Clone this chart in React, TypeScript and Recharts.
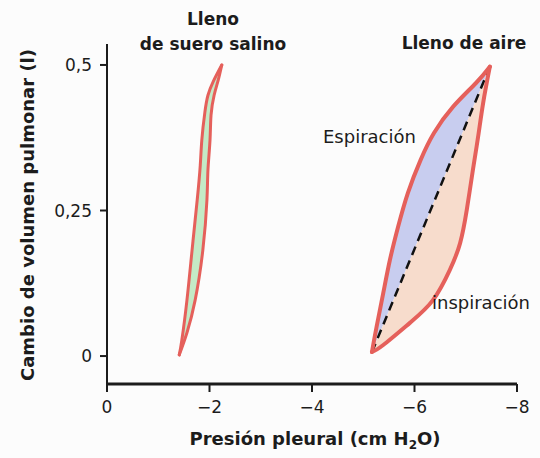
import { ScatterChart, Scatter, XAxis, YAxis, Label } from 'recharts';

const FONT = '"DejaVu Sans", sans-serif';
const INK = '#1c1c1c';
const RED = '#e5605b';
const GREEN = '#c4eac6';
const BLUE = '#c8cdef';
const PEACH = '#f7dccc';

const X_TICKS = [0, -2, -4, -6, -8];
const Y_TICKS = [0, 0.25, 0.5];

// Lleno de suero salino: dos ramas, de abajo hacia arriba
const SALINE_LEFT_X = [-1.41, -1.46, -1.56, -1.66, -1.76, -1.82, -1.85, -1.91, -1.97, -2.07, -2.24];
const SALINE_LEFT_Y = [0.002, 0.027, 0.096, 0.182, 0.268, 0.328, 0.371, 0.419, 0.448, 0.471, 0.5];
const SALINE_RIGHT_X = [-1.41, -1.56, -1.72, -1.87, -1.95, -1.97, -2.01, -2.03, -2.09, -2.17, -2.24];
const SALINE_RIGHT_Y = [0.002, 0.04, 0.096, 0.182, 0.268, 0.32, 0.371, 0.414, 0.448, 0.474, 0.5];

// Lleno de aire: espiración (arriba-izquierda) e inspiración (abajo-derecha)
const AIR_EXP_X = [-5.17, -5.26, -5.39, -5.52, -5.68, -5.87, -6.12, -6.38, -6.75, -7.2, -7.47];
const AIR_EXP_Y = [0.007, 0.05, 0.108, 0.165, 0.222, 0.28, 0.337, 0.383, 0.428, 0.469, 0.497];
const AIR_INS_X = [-5.17, -5.39, -5.91, -6.36, -6.69, -6.89, -7.02, -7.14, -7.24, -7.34, -7.47];
const AIR_INS_Y = [0.007, 0.019, 0.057, 0.096, 0.148, 0.194, 0.251, 0.32, 0.376, 0.435, 0.497];

const pts = (xs: number[], ys: number[]) => xs.map((x, i) => ({ x, y: ys[i] }));

const salineLeft = pts(SALINE_LEFT_X, SALINE_LEFT_Y);
const salineRight = pts(SALINE_RIGHT_X, SALINE_RIGHT_Y);
const salineLoop = [...salineLeft, ...salineRight.slice().reverse()];
const airExp = pts(AIR_EXP_X, AIR_EXP_Y);
const airIns = pts(AIR_INS_X, AIR_INS_Y);
const airDiag = [airExp[0], airExp[airExp.length - 1]];

const NoDot = () => <g />;

const fmtX = (v: number) => (v === 0 ? '0' : `\u2212${Math.abs(v)}`);
const fmtY = (v: number) => (v === 0 ? '0' : String(v).replace('.', ','));

function XTitle(props: any) {
  const vb = props.viewBox ?? { x: 107, y: 384, width: 410, height: 74 };
  return (
    <text x={vb.x + vb.width / 2 + 3} y={vb.y + 61} textAnchor="middle" fontFamily={FONT} fontWeight="bold" fontSize={18} fill={INK}>
      Presión pleural (cm H<tspan fontSize={12} dy={4}>2</tspan><tspan dy={-4}>O)</tspan>
    </text>
  );
}

function YTitle(props: any) {
  const vb = props.viewBox ?? { x: 0, y: 44, width: 107, height: 340 };
  const cx = vb.x + 27;
  const cy = vb.y + vb.height / 2 + 1;
  return (
    <text x={cx} y={cy} transform={`rotate(-90 ${cx} ${cy})`} textAnchor="middle" dominantBaseline="central" fontFamily={FONT} fontWeight="bold" fontSize={18} fill={INK}>
      Cambio de volumen pulmonar (l)
    </text>
  );
}

const outline = (w: number) => ({ stroke: RED, strokeWidth: w, strokeLinecap: 'round', strokeLinejoin: 'round' });

export default function App() {
  return (
    <div style={{ position: 'absolute', left: 0, top: 0, width: 540, height: 458, background: '#fcfcfc' }}>
      <ScatterChart width={540} height={458} margin={{ top: 44, right: 23, bottom: 0, left: 0 }}>
        <XAxis
          type="number"
          dataKey="x"
          domain={[-8, 0]}
          reversed
          allowDataOverflow
          ticks={X_TICKS}
          interval={0}
          height={74}
          tickSize={8}
          tickMargin={9}
          tickFormatter={fmtX}
          stroke={INK}
          axisLine={{ stroke: INK, strokeWidth: 3 }}
          tickLine={{ stroke: INK, strokeWidth: 2 }}
          tick={{ fill: INK, fontSize: 17, fontFamily: FONT }}
        >
          <Label content={XTitle} />
        </XAxis>
        <YAxis
          type="number"
          dataKey="y"
          domain={[-0.048, 0.536]}
          allowDataOverflow
          ticks={Y_TICKS}
          interval={0}
          width={107}
          tickSize={7}
          tickMargin={8}
          tickFormatter={fmtY}
          stroke={INK}
          axisLine={{ stroke: INK, strokeWidth: 2 }}
          tickLine={{ stroke: INK, strokeWidth: 2 }}
          tick={{ fill: INK, fontSize: 17, fontFamily: FONT }}
        >
          <Label content={YTitle} />
        </YAxis>

        <Scatter data={salineLoop} shape={NoDot} line={{ fill: GREEN, stroke: 'none' }} isAnimationActive={false} />
        <Scatter data={salineLeft} shape={NoDot} line={outline(3)} lineJointType="natural" isAnimationActive={false} />
        <Scatter data={salineRight} shape={NoDot} line={outline(3)} lineJointType="natural" isAnimationActive={false} />

        <Scatter data={airExp} shape={NoDot} line={{ fill: BLUE, stroke: 'none' }} isAnimationActive={false} />
        <Scatter data={airIns} shape={NoDot} line={{ fill: PEACH, stroke: 'none' }} isAnimationActive={false} />
        <Scatter data={airDiag} shape={NoDot} line={{ stroke: '#111', strokeWidth: 2.5, strokeDasharray: '9 6' }} isAnimationActive={false} />
        <Scatter data={airExp} shape={NoDot} line={outline(4)} lineJointType="natural" isAnimationActive={false} />
        <Scatter data={airIns} shape={NoDot} line={outline(4)} lineJointType="natural" isAnimationActive={false} />
      </ScatterChart>

      <svg width={540} height={458} style={{ position: 'absolute', left: 0, top: 0, pointerEvents: 'none' }}>
        <g fontFamily={FONT} fill={INK}>
          <text x={213} y={25} textAnchor="middle" fontWeight="bold" fontSize={17}>Lleno</text>
          <text x={213} y={50} textAnchor="middle" fontWeight="bold" fontSize={17}>de suero salino</text>
          <text x={464} y={49} textAnchor="middle" fontWeight="bold" fontSize={17}>Lleno de aire</text>
          <text x={323} y={143} fontSize={18}>Espiración</text>
          <text x={432} y={309} fontSize={18}>inspiración</text>
        </g>
      </svg>
    </div>
  );
}
